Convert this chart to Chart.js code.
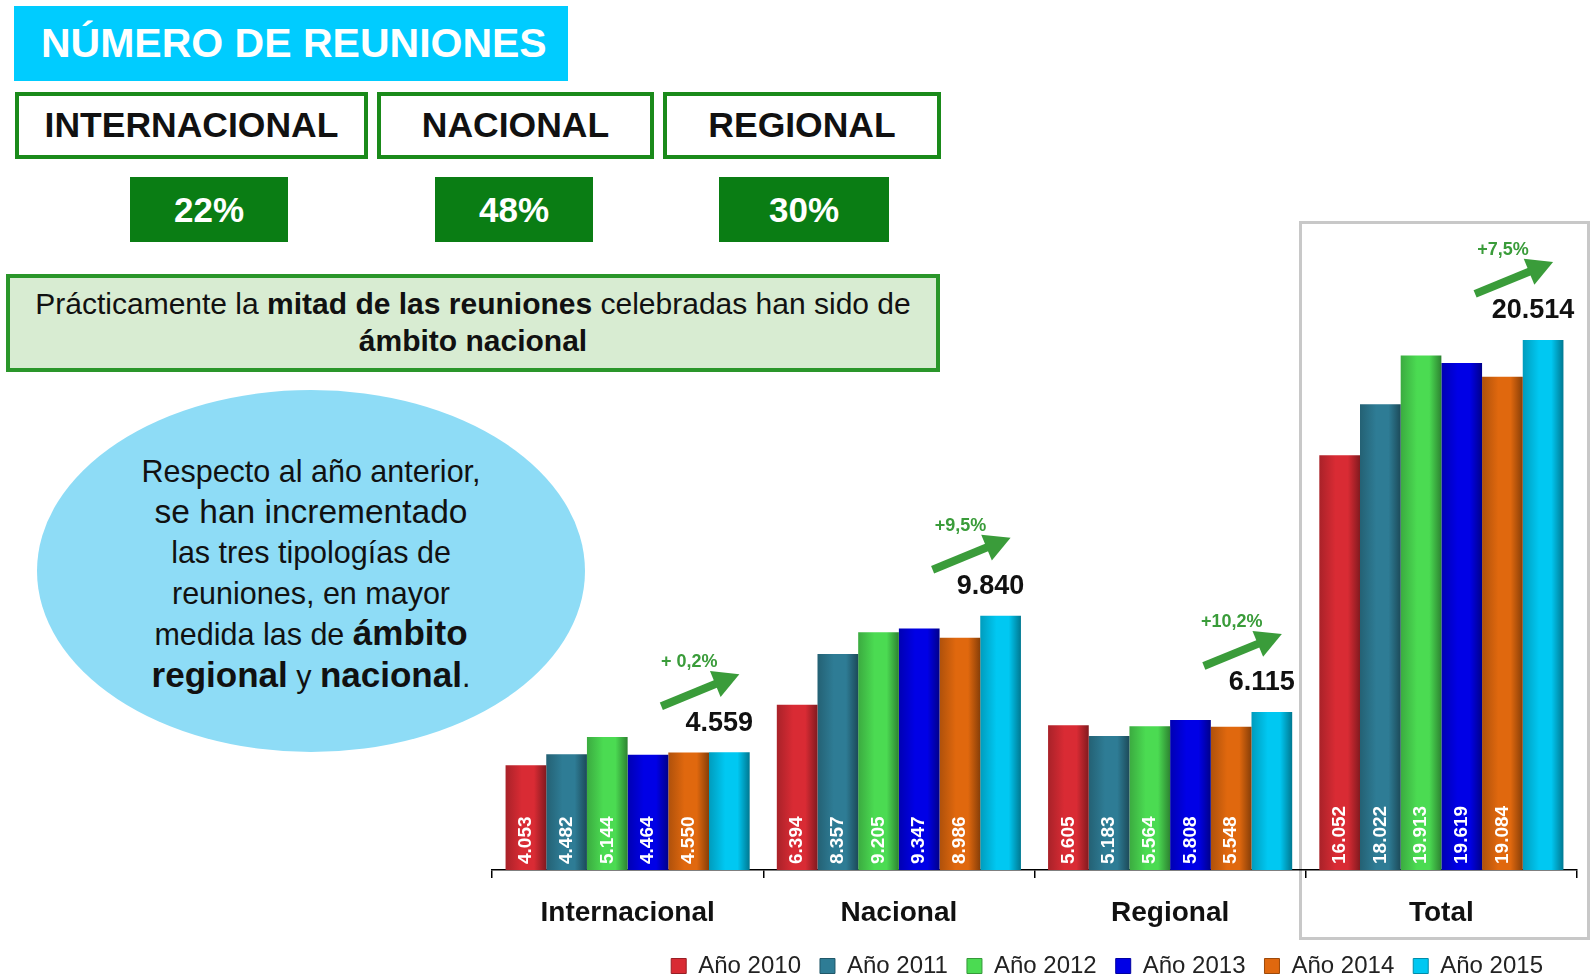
<!DOCTYPE html>
<html>
<head>
<meta charset="utf-8">
<script src="https://cdn.jsdelivr.net/npm/chart.js@4.4.1/dist/chart.umd.min.js"></script>
<style>
  html, body { margin: 0; padding: 0; background: #fff; }
  body { width: 1590px; height: 977px; position: relative; overflow: hidden; font-family: "Liberation Sans", Arial, sans-serif; }
  .abs { position: absolute; box-sizing: border-box; }
  #title { left: 14px; top: 6px; width: 554px; height: 75px; background: #00ccff; color: #fff; font-weight: bold; font-size: 41px; line-height: 75px; padding-left: 27px; white-space: nowrap; }
  .cat { top: 92px; height: 67px; border: 4px solid #1a8a1a; background: #fff; font-weight: bold; font-size: 35.5px; text-align: center; line-height: 59px; color: #111; white-space: nowrap; }
  .pct { top: 177px; height: 65px; background: #0a7d14; color: #fff; font-weight: bold; font-size: 35px; text-align: center; line-height: 65px; }
  #note { left: 6px; top: 274px; width: 934px; height: 98px; border: 4px solid #2a962a; background: #d8ecd2; font-size: 30px; text-align: center; line-height: 37px; padding-top: 7px; color: #111; white-space: nowrap; }
  #bubble { left: 37px; top: 390px; width: 548px; height: 362px; border-radius: 50%; background: #8edcf6; }
  #bubbleText { left: 37px; top: 451px; width: 548px; text-align: center; font-size: 30.5px; line-height: 40.5px; color: #111; white-space: nowrap; }
  #bubbleText b { font-size: 35px; }
  #totalBox { left: 1299px; top: 221px; width: 291px; height: 719px; border: 3px solid #c8c8c8; }
  #chartWrap { left: 480px; top: 200px; width: 1110px; height: 788px; }
</style>
</head>
<body>
<div id="title" class="abs">NÚMERO DE REUNIONES</div>
<div class="abs cat" style="left:15px;width:353px;">INTERNACIONAL</div>
<div class="abs cat" style="left:377px;width:277px;">NACIONAL</div>
<div class="abs cat" style="left:663px;width:278px;">REGIONAL</div>
<div class="abs pct" style="left:130px;width:158px;">22%</div>
<div class="abs pct" style="left:435px;width:158px;">48%</div>
<div class="abs pct" style="left:719px;width:170px;">30%</div>
<div id="note" class="abs">Prácticamente la <b>mitad de las reuniones</b> celebradas han sido de<br><b>ámbito nacional</b></div>
<div id="bubble" class="abs"></div>
<div id="bubbleText" class="abs">Respecto al año anterior,<br><span style="font-size:33.5px">se han incrementado</span><br>las tres tipologías de<br>reuniones, en mayor<br>medida las de <b>ámbito</b><br><b>regional</b> y <b>nacional</b>.</div>
<div id="totalBox" class="abs"></div>
<div id="chartWrap" class="abs"><canvas id="chart"></canvas></div>

<script>
const categories = ['Internacional', 'Nacional', 'Regional', 'Total'];
const years = ['Año 2010', 'Año 2011', 'Año 2012', 'Año 2013', 'Año 2014', 'Año 2015'];
const y2010 = [4053, 6394, 5605, 16052];
const y2011 = [4482, 8357, 5183, 18022];
const y2012 = [5144, 9205, 5564, 19913];
const y2013 = [4464, 9347, 5808, 19619];
const y2014 = [4550, 8986, 5548, 19084];
const y2015 = [4559, 9840, 6115, 20514];
const growth = ['+ 0,2%', '+9,5%', '+10,2%', '+7,5%'];
const colors = ['#d92b34', '#2e7c95', '#4bdb52', '#0000e6', '#e0680e', '#00c8f2'];

const series = [y2010, y2011, y2012, y2013, y2014, y2015];

function fmt(v) {
  return String(v).replace(/\B(?=(\d{3})+(?!\d))/g, '.');
}

function shade(hex, f) {
  const n = parseInt(hex.slice(1), 16);
  const r = Math.round(((n >> 16) & 255) * f);
  const g = Math.round(((n >> 8) & 255) * f);
  const b = Math.round((n & 255) * f);
  return `rgb(${r},${g},${b})`;
}

// cylinder-like shading across each bar
function barFill(color) {
  return (ctx) => {
    const el = ctx.element;
    if (!el || !el.width || isNaN(el.x)) return color;
    const c = ctx.chart.ctx;
    const g = c.createLinearGradient(el.x - el.width / 2, 0, el.x + el.width / 2, 0);
    g.addColorStop(0, shade(color, 0.78));
    g.addColorStop(0.4, color);
    g.addColorStop(0.7, color);
    g.addColorStop(1, shade(color, 0.6));
    return g;
  };
}

const labelPlugin = {
  id: 'barLabels',
  afterLayout(chart) {
    // legend sits a little left of the plot's right edge
    chart.legend.left -= 15;
    chart.legend.right -= 15;
  },
  afterDatasetsDraw(chart) {
    const c = chart.ctx;
    const last = chart.data.datasets.length - 1;
    chart.data.datasets.forEach((ds, di) => {
      const meta = chart.getDatasetMeta(di);
      meta.data.forEach((bar, i) => {
        const v = ds.data[i];
        if (di < last) {
          c.save();
          c.translate(bar.x, bar.base - 6);
          c.rotate(-Math.PI / 2);
          c.font = 'bold 19px "Liberation Sans", Arial, sans-serif';
          c.fillStyle = '#fff';
          c.textAlign = 'left';
          c.textBaseline = 'middle';
          c.fillText(fmt(v), 0, 0);
          c.restore();
        } else {
          // latest year: value on top, arrow and growth rate
          c.save();
          c.font = 'bold 27px "Liberation Sans", Arial, sans-serif';
          c.fillStyle = '#111';
          c.textAlign = 'center';
          c.textBaseline = 'middle';
          c.fillText(fmt(v), bar.x - 10, bar.y - 29);

          const x0 = bar.x - 68, y0 = bar.y - 46;
          const x1 = bar.x + 10, y1 = bar.y - 78;
          const ang = Math.atan2(y1 - y0, x1 - x0);
          c.strokeStyle = '#3a9c3a';
          c.fillStyle = '#3a9c3a';
          c.lineWidth = 8;
          c.beginPath();
          c.moveTo(x0, y0);
          c.lineTo(x1 - 20 * Math.cos(ang), y1 - 20 * Math.sin(ang));
          c.stroke();
          c.beginPath();
          c.moveTo(x1, y1);
          c.lineTo(x1 - 26 * Math.cos(ang) + 14 * Math.sin(ang), y1 - 26 * Math.sin(ang) - 14 * Math.cos(ang));
          c.lineTo(x1 - 26 * Math.cos(ang) - 14 * Math.sin(ang), y1 - 26 * Math.sin(ang) + 14 * Math.cos(ang));
          c.closePath();
          c.fill();

          c.font = 'bold 18px "Liberation Sans", Arial, sans-serif';
          c.fillText(growth[i], bar.x - 40, bar.y - 90);
          c.restore();
        }
      });
    });
  }
};

const chart = new Chart(document.getElementById('chart'), {
  type: 'bar',
  data: {
    labels: categories,
    datasets: series.map((d, i) => ({
      label: years[i],
      data: d,
      backgroundColor: barFill(colors[i]),
      borderWidth: 0,
      categoryPercentage: 0.9,
      barPercentage: 1.0
    }))
  },
  options: {
    responsive: true,
    maintainAspectRatio: false,
    animation: false,
    layout: { padding: { left: 12, right: 13, top: 24, bottom: 0 } },
    scales: {
      y: { display: false, min: 0, max: 25000 },
      x: {
        afterFit(scale) { scale.height = 65; },
        grid: { offset: true, drawOnChartArea: false, color: '#000', lineWidth: 1.5, tickLength: 8 },
        border: { color: '#000', width: 1.5 },
        ticks: { color: '#111', padding: 21, font: { family: '"Liberation Sans", Arial, sans-serif', size: 28, weight: 'bold', lineHeight: 1 } }
      }
    },
    plugins: {
      tooltip: { enabled: false },
      legend: {
        position: 'bottom',
        align: 'end',
        labels: {
          color: '#222',
          boxWidth: 15,
          boxHeight: 15,
          padding: 19,
          font: { family: '"Liberation Sans", Arial, sans-serif', size: 24 },
          generateLabels(chart) {
            const items = Chart.defaults.plugins.legend.labels.generateLabels(chart);
            items.forEach(it => {
              it.fillStyle = colors[it.datasetIndex];
              it.strokeStyle = shade(colors[it.datasetIndex], 0.7);
              it.lineWidth = 1;
            });
            return items;
          }
        }
      }
    }
  },
  plugins: [labelPlugin]
});
chart.update();
</script>
</body>
</html>
